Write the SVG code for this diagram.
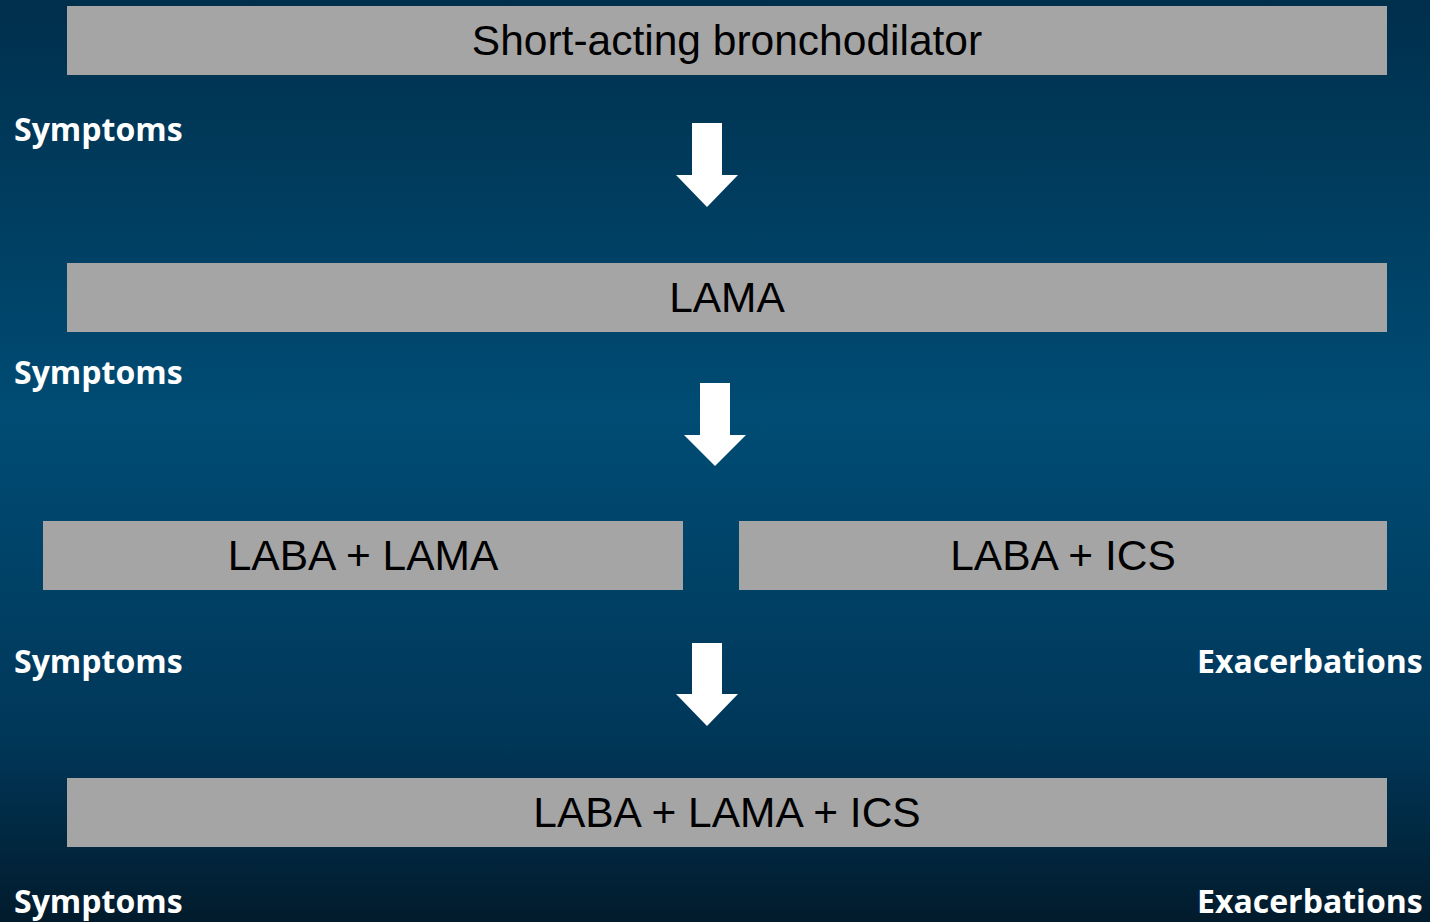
<svg xmlns="http://www.w3.org/2000/svg" width="1430" height="922" viewBox="0 0 1430 922">
  <defs>
    <linearGradient id="bg" x1="0" y1="0" x2="0" y2="1">
      <stop offset="0" stop-color="#002f4c"/>
      <stop offset="0.45" stop-color="#004c74"/>
      <stop offset="0.8" stop-color="#003759"/>
      <stop offset="1" stop-color="#021b2c"/>
    </linearGradient>
    <style>
      .box { fill: #a5a5a5; }
      .boxtext { font-family: "Liberation Sans", Arial, sans-serif; font-size: 42.5px; fill: #000; text-anchor: middle; }
      .label { font-family: "Open Sans", "DejaVu Sans", sans-serif; font-weight: bold; font-size: 32px; fill: #fff; }
      .arrow { fill: #fff; }
    </style>
  </defs>

  <rect width="1430" height="922" fill="url(#bg)"/>

  <g id="node-short-acting">
    <rect class="box" x="67" y="6" width="1320" height="69"/>
    <text class="boxtext" x="727" y="55">Short-acting bronchodilator</text>
  </g>
  <g id="node-lama">
    <rect class="box" x="67" y="263" width="1320" height="69"/>
    <text class="boxtext" x="727" y="312">LAMA</text>
  </g>
  <g id="node-laba-lama">
    <rect class="box" x="43" y="521" width="640" height="69"/>
    <text class="boxtext" x="363" y="570">LABA + LAMA</text>
  </g>
  <g id="node-laba-ics">
    <rect class="box" x="739" y="521" width="648" height="69"/>
    <text class="boxtext" x="1063" y="570">LABA + ICS</text>
  </g>
  <g id="node-triple">
    <rect class="box" x="67" y="778" width="1320" height="69"/>
    <text class="boxtext" x="727" y="827">LABA + LAMA + ICS</text>
  </g>

  <g id="connectors">
    <polygon class="arrow" points="692,123 722,123 722,175 738,175 707,207 676,175 692,175"/>
    <polygon class="arrow" points="700,383 730,383 730,435 746,435 715,466 684,435 700,435"/>
    <polygon class="arrow" points="692,643 722,643 722,694 738,694 707,726 676,694 692,694"/>
  </g>

  <g id="labels">
    <text class="label" x="14" y="141">Symptoms</text>
    <text class="label" x="14" y="384">Symptoms</text>
    <text class="label" x="14" y="673">Symptoms</text>
    <text class="label" x="1197" y="673">Exacerbations</text>
    <text class="label" x="14" y="913">Symptoms</text>
    <text class="label" x="1197" y="913">Exacerbations</text>
  </g>
</svg>
